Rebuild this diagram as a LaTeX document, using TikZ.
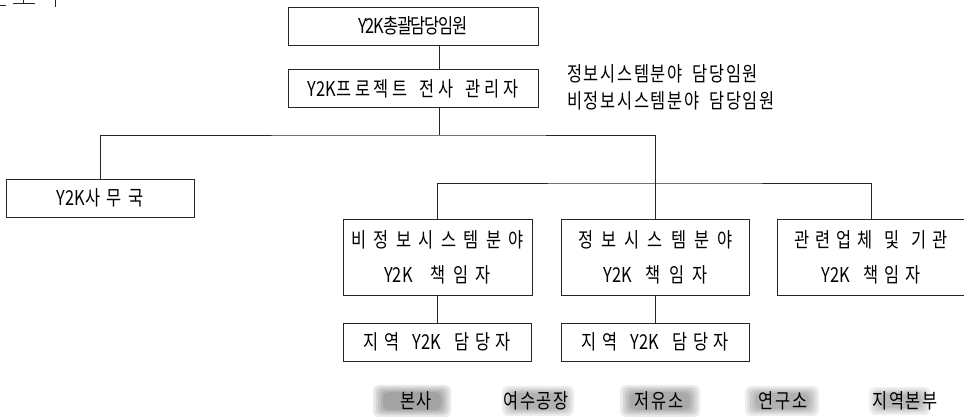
\documentclass[tikz,border=0pt]{standalone}
\usepackage{fontspec}
\newfontfamily\kr[FakeStretch=0.8]{Noto Sans CJK KR}
\newcommand\wg[1]{\hspace{#1pt}}
\newcommand\yk{{\kr Y2K}}
\tikzset{
  box/.style={draw=black!85, line width=0.9pt, inner sep=0pt, minimum height=38pt, minimum width=188pt},
  tallbox/.style={box, minimum height=76pt, align=center},
  ls/.style={font=\kr\fontsize{20.5}{35}\selectfont\addfontfeature{LetterSpace=#1}},
  link/.style={draw=black!85, line width=0.9pt},
  lab/.style={inner sep=0pt, font=\kr\fontsize{20.5}{24}\selectfont\addfontfeature{LetterSpace=8}},
  halftone/.style={fill=black, fill opacity=#1, rounded corners=6pt},
}
\newcommand\blob[5]{% centre x, centre y, half width, half height, strength per layer
  \foreach \k in {0,1,2,3,4}{%
    \fill[halftone=#5] (#1-#3+2.5*\k,#2-#4+1.8*\k) rectangle (#1+#3-2.5*\k,#2+#4-1.8*\k);}}
\begin{document}
\begin{tikzpicture}[x=1pt,y=-1pt]
\useasboundingbox (0,0) rectangle (964,419);
% cut-off fragment at top left
\draw[black!85, line width=0.8pt] (0,5) -- (6,5) (13,3) -- (35,3) (23,0) -- (23,3) (55,0) -- (55,7);

\node[box, ls=-6, minimum width=250pt] (top) at (413,26) {Y2K총괄담당임원};
\node[box, ls=18, minimum width=250pt] (mgr) at (413,88.5) {\yk 프로젝트\wg{12}전사\wg{12}관리자};
\node[anchor=west, align=left, inner sep=0pt, font=\kr\fontsize{20.5}{27}\selectfont\addfontfeature{LetterSpace=8}] (note) at (567,87.5)
  {정보시스템분야\wg{10}담당임원\\비정보시스템분야\wg{10}담당임원};

\node[box, ls=32, minimum width=188pt] (sec) at (100,198) {\yk 사무국};

\node[tallbox, ls=36, minimum width=189pt] (nis) at (437.5,257) {비정보시스템분야\\\yk\wg{18}책임자};
\node[tallbox, ls=40, minimum width=188pt] (is) at (655.5,257) {정보시스템분야\\\yk\wg{14}책임자};
\node[tallbox, ls=28, minimum width=188pt] (rel) at (871,257) {관련업체\wg{12}및\wg{12}기관\\\yk\wg{14}책임자};

\node[box, ls=28] (loc1) at (437.5,342) {지역\wg{13}\yk\wg{13}담당자};
\node[box, ls=28] (loc2) at (655.5,342) {지역\wg{13}\yk\wg{13}담당자};

\coordinate (j1) at (439,135);
\coordinate (j2) at (655.5,183);
\path[link] (top.south -| j1) -- (mgr.north -| j1);
\path[link] (mgr.south -| j1) -- (j1);
\path[link] (sec.north) |- (j1) -| (is.north);
\path[link] (nis.north) |- (j2) -| (rel.north);
\path[link] (nis) -- (loc1);
\path[link] (is) -- (loc2);

% location labels with halftone backgrounds
\blob{412}{401}{39}{16}{0.085}
\blob{538}{401}{36}{15}{0.072}
\blob{660}{401}{40}{16}{0.078}
\blob{782}{401}{37}{15}{0.072}
\blob{900}{401}{31}{14}{0.062}
\node[lab] (l1) at (416,401) {본사};
\node[lab] (l2) at (536,401) {여수공장};
\node[lab] (l3) at (659,401) {저유소};
\node[lab] (l4) at (783,401) {연구소};
\node[lab] (l5) at (905,401) {지역본부};
\end{tikzpicture}
\end{document}
